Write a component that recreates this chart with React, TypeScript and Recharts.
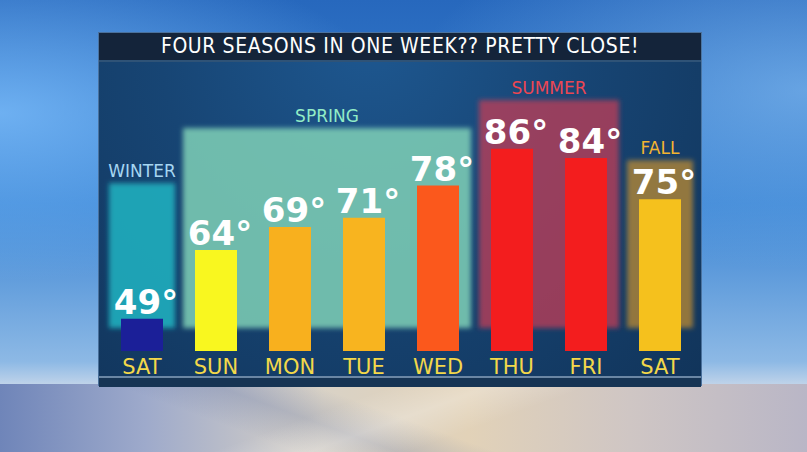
import { BarChart, Bar, XAxis, YAxis, Cell, LabelList, ReferenceArea } from "recharts";

const dayKeys = ["SAT1", "SUN", "MON", "TUE", "WED", "THU", "FRI", "SAT2"];
const dayNames = ["SAT", "SUN", "MON", "TUE", "WED", "THU", "FRI", "SAT"];
const highs = [49, 64, 69, 71, 78, 86, 84, 75];
const barColors = ["#1b1f98", "#f9f71f", "#f8b01e", "#f8b41f", "#fb581c", "#f31d1e", "#f31d1e", "#f5c11d"];

const seasonNames = ["WINTER", "SPRING", "SUMMER", "FALL"];
const seasonFrom = ["SAT1", "SUN", "THU", "SAT2"];
const seasonTo = ["SAT1", "WED", "FRI", "SAT2"];
const seasonTops = [78.5, 90.5, 96.6, 83.5];
const seasonBase = 47;
const seasonFills = ["#22b4c2", "#7fd0b6", "#c23e55", "#c8902e"];
const seasonOpacity = [0.85, 0.85, 0.75, 0.7];
const seasonText = ["#a6d6f2", "#92ecc6", "#ec4652", "#f2b430"];

const data = dayKeys.map((key, i) => ({ key, day: dayNames[i], high: highs[i] }));

const font = "'DejaVu Sans', sans-serif";
const condensed = "'DejaVu Sans Condensed', 'DejaVu Sans', sans-serif";

const seasonShape = (i: number) => (p: any) => (
  <rect
    x={p.x + 4}
    y={p.y}
    width={p.width - 8}
    height={p.height}
    fill={seasonFills[i]}
    fillOpacity={seasonOpacity[i]}
    filter="url(#soft)"
  />
);

const valueLabel = (p: any) => (
  <text
    x={p.x + p.width / 2 + 4}
    y={p.y - 5}
    textAnchor="middle"
    fill="#ffffff"
    fontSize={34}
    fontWeight="bold"
    fontFamily={font}
  >
    {p.value}°
  </text>
);

export default function App() {
  return (
    <div
      style={{
        position: "absolute",
        left: 0,
        top: 0,
        width: 807,
        height: 452,
        overflow: "hidden",
        background:
          "radial-gradient(ellipse at 0% 25%, rgba(130,195,255,0.75), rgba(130,195,255,0) 35%), radial-gradient(ellipse at 100% 20%, rgba(140,195,245,0.6), rgba(140,195,245,0) 35%), linear-gradient(180deg, #2768bd 0%, #3a84d4 45%, #8db9e5 80%, #c9d8ea 86%)",
      }}
    >
      <svg width={0} height={0} style={{ position: "absolute" }}>
        <defs>
          <filter id="soft" x="-10%" y="-10%" width="120%" height="120%">
            <feGaussianBlur stdDeviation="2.5" />
          </filter>
        </defs>
      </svg>
      {/* floor */}
      <div
        style={{
          position: "absolute",
          left: 0,
          top: 384,
          width: 807,
          height: 68,
          background:
            "linear-gradient(160deg, rgba(255,255,255,0) 40%, rgba(255,255,255,0.25) 50%, rgba(255,255,255,0) 60%), linear-gradient(20deg, rgba(90,110,160,0) 30%, rgba(90,110,160,0.25) 40%, rgba(90,110,160,0) 50%), linear-gradient(90deg, #6f85b9 0%, #9eaacb 18%, #d9d2c6 40%, #e2d2b8 58%, #cfc6c4 78%, #b9b6c6 100%)",
        }}
      />
      {/* panel */}
      <div
        style={{
          position: "absolute",
          left: 98,
          top: 32,
          width: 604,
          height: 354,
          border: "1px solid rgba(120,160,205,0.55)",
          boxSizing: "border-box",
          background:
            "radial-gradient(ellipse at 45% 0%, #1e5891 0%, #174574 45%, #11345a 100%)",
        }}
      />
      <div
        style={{
          position: "absolute",
          left: 99,
          top: 33,
          width: 602,
          height: 27,
          background: "#14243a",
          borderBottom: "2px solid #2f5377",
          color: "#ffffff",
          fontFamily: condensed,
          fontStretch: "condensed",
          fontSize: 21,
          letterSpacing: 0.6,
          lineHeight: "27px",
          textAlign: "center",
        }}
      >
        FOUR SEASONS IN ONE WEEK?? PRETTY CLOSE!
      </div>
      <div
        style={{
          position: "absolute",
          left: 99,
          top: 376,
          width: 602,
          height: 9,
          borderTop: "2px solid #6a86a4",
          background: "#163454",
        }}
      />
      <div style={{ position: "absolute", left: 0, top: 0 }}>
        <BarChart
          width={807}
          height={452}
          data={data}
          margin={{ top: 89, right: 110, bottom: 71, left: 105 }}
        >
          <YAxis hide domain={[42, 99]} />
          <XAxis
            dataKey="key"
            height={30}
            axisLine={false}
            tickLine={false}
            interval={0}
            tickFormatter={(_v: any, i: number) => dayNames[i]}
            tick={{ fill: "#f3d84a", fontSize: 21, fontFamily: font }}
          />
          {seasonNames.map((name, i) => (
            <ReferenceArea
              key={name}
              x1={seasonFrom[i]}
              x2={seasonTo[i]}
              y1={seasonBase}
              y2={seasonTops[i]}
              shape={seasonShape(i)}
              label={{
                value: name,
                position: "top",
                offset: 6,
                fill: seasonText[i],
                fontSize: 17,
                fontFamily: font,
              }}
            />
          ))}
          <Bar dataKey="high" barSize={42} isAnimationActive={false}>
            {data.map((d, i) => (
              <Cell key={d.key} fill={barColors[i]} />
            ))}
            <LabelList dataKey="high" content={valueLabel} />
          </Bar>
        </BarChart>
      </div>
    </div>
  );
}
